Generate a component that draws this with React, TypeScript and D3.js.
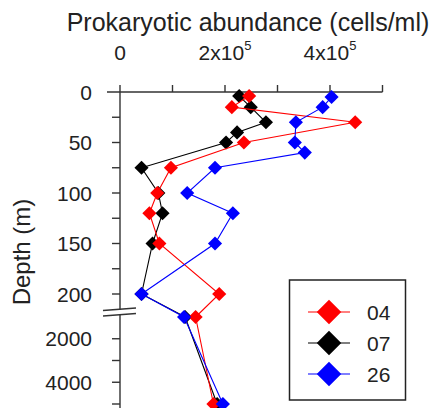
import * as d3 from "d3";
import React, { useEffect, useRef } from "react";

// depth (m) and abundance (cells/ml) per station
const depths04 = [4, 15, 30, 50, 75, 100, 120, 150, 200, 1000, 5000];
const abund04 = [2.46e5, 2.13e5, 4.48e5, 2.36e5, 0.97e5, 0.71e5, 0.56e5, 0.75e5, 1.89e5, 1.44e5, 1.78e5];
const depths07 = [4, 15, 30, 40, 50, 75, 100, 120, 150, 200, 1000, 5000];
const abund07 = [2.27e5, 2.49e5, 2.78e5, 2.23e5, 2.02e5, 0.41e5, 0.73e5, 0.81e5, 0.62e5, 0.41e5, 1.24e5, 1.85e5];
const depths26 = [5, 15, 30, 50, 60, 75, 100, 120, 150, 200, 1000, 5000];
const abund26 = [4.03e5, 3.86e5, 3.35e5, 3.33e5, 3.52e5, 1.81e5, 1.28e5, 2.15e5, 1.81e5, 0.41e5, 1.22e5, 1.96e5];

const stations = ["04", "07", "26"];
const colors = ["#ff0000", "#000000", "#0000ff"];

const xTicks = [0, 1e5, 2e5, 3e5, 4e5, 5e5];
const xLabels = [0, 2e5, 4e5];
const yTicksTop = [0, 25, 50, 75, 100, 125, 150, 175, 200];
const yLabelsTop = [0, 50, 100, 150, 200];
const yTicksBottom = [2000, 3000, 4000, 5000];
const yLabelsBottom = [2000, 4000];

const FONT = "Liberation Sans, Arial, sans-serif";

export default function App() {
    const ref = useRef<SVGSVGElement>(null);

    useEffect(() => {
        const svg = d3.select(ref.current);
        svg.selectAll("*").remove();

        const x = d3.scaleLinear().domain([0, 5e5]).range([120, 382.5]);
        const yTop = d3.scaleLinear().domain([0, 200]).range([92, 294]);
        const yBot = d3.scaleLinear().domain([1000, 5000]).range([317, 404]);
        const y = (d: number) => (d <= 200 ? yTop(d) : yBot(d));
        const axisColor = "#333";

        // x axis (top)
        svg.append("line")
            .attr("x1", 107).attr("x2", x(5e5))
            .attr("y1", 92).attr("y2", 92)
            .attr("stroke", axisColor).attr("stroke-width", 1.4);
        xTicks.forEach((t) => {
            svg.append("line")
                .attr("x1", x(t)).attr("x2", x(t))
                .attr("y1", 92).attr("y2", 85)
                .attr("stroke", axisColor).attr("stroke-width", 1.4);
        });
        xLabels.forEach((t) => {
            const txt = svg.append("text")
                .attr("x", x(t)).attr("y", 60)
                .attr("text-anchor", "middle")
                .attr("font-family", FONT).attr("font-size", 21).attr("fill", "#222");
            if (t === 0) {
                txt.text("0");
            } else {
                txt.append("tspan").text(`${t / 1e5}x10`);
                txt.append("tspan").attr("dy", -10).attr("font-size", 13).text("5");
            }
        });
        svg.append("text")
            .attr("x", 248).attr("y", 31)
            .attr("text-anchor", "middle")
            .attr("font-family", FONT).attr("font-size", 25).attr("fill", "#222")
            .text("Prokaryotic abundance (cells/ml)");

        // y axis with a break
        svg.append("line")
            .attr("x1", 120).attr("x2", 120).attr("y1", 92).attr("y2", 310)
            .attr("stroke", axisColor).attr("stroke-width", 1.4);
        svg.append("line")
            .attr("x1", 120).attr("x2", 120).attr("y1", 315).attr("y2", 410)
            .attr("stroke", axisColor).attr("stroke-width", 1.4);
        [[310.5, 308], [316, 313.5]].forEach(([a, b]) => {
            svg.append("line")
                .attr("x1", 103).attr("x2", 136).attr("y1", a).attr("y2", b)
                .attr("stroke", axisColor).attr("stroke-width", 1.4);
        });
        yTicksTop.filter((t) => t > 0).forEach((t) => {
            svg.append("line")
                .attr("x1", 112).attr("x2", 120).attr("y1", yTop(t)).attr("y2", yTop(t))
                .attr("stroke", axisColor).attr("stroke-width", 1.4);
        });
        yTicksBottom.forEach((t) => {
            svg.append("line")
                .attr("x1", 112).attr("x2", 120).attr("y1", yBot(t)).attr("y2", yBot(t))
                .attr("stroke", axisColor).attr("stroke-width", 1.4);
        });
        const yLab = [
            ...yLabelsTop.map((t) => ({ t, py: yTop(t) })),
            ...yLabelsBottom.map((t) => ({ t, py: yBot(t) })),
        ];
        yLab.forEach(({ t, py }) => {
            svg.append("text")
                .attr("x", 92).attr("y", py)
                .attr("dy", "0.36em")
                .attr("text-anchor", "end")
                .attr("font-family", FONT).attr("font-size", 21).attr("fill", "#222")
                .text(String(t));
        });
        svg.append("text")
            .attr("transform", "translate(30,252) rotate(-90)")
            .attr("text-anchor", "middle")
            .attr("font-family", FONT).attr("font-size", 24).attr("fill", "#222")
            .text("Depth (m)");

        // series: draw 07 first, then 04, then 26
        const series = [
            { depths: depths07, values: abund07, color: colors[1] },
            { depths: depths04, values: abund04, color: colors[0] },
            { depths: depths26, values: abund26, color: colors[2] },
        ];
        const line = d3.line<[number, number]>()
            .x((d) => x(d[1]))
            .y((d) => y(d[0]));
        const marker = d3.symbol().type(d3.symbolSquare).size(100);

        series.forEach((s) => {
            const pts = s.depths.map((d, i) => [d, s.values[i]] as [number, number]);
            svg.append("path")
                .attr("d", line(pts))
                .attr("fill", "none")
                .attr("stroke", s.color)
                .attr("stroke-width", 1.1);
            svg.selectAll(null)
                .data(pts)
                .enter()
                .append("path")
                .attr("d", marker)
                .attr("transform", (d) => `translate(${x(d[1])},${y(d[0])}) rotate(45)`)
                .attr("fill", s.color);
        });

        // legend
        const legend = svg.append("g");
        legend.append("rect")
            .attr("x", 289.5).attr("y", 280).attr("width", 116).attr("height", 120)
            .attr("fill", "white").attr("stroke", "#222").attr("stroke-width", 1.5);
        const legMarker = d3.symbol().type(d3.symbolSquare).size(300);
        stations.forEach((name, i) => {
            const ly = 312 + i * 31;
            legend.append("line")
                .attr("x1", 308).attr("x2", 350).attr("y1", ly).attr("y2", ly)
                .attr("stroke", colors[i]).attr("stroke-width", 1.1);
            legend.append("path")
                .attr("d", legMarker)
                .attr("transform", `translate(329,${ly}) rotate(45)`)
                .attr("fill", colors[i]);
            legend.append("text")
                .attr("x", 367).attr("y", ly)
                .attr("dy", "0.36em")
                .attr("font-family", FONT).attr("font-size", 21).attr("fill", "#222")
                .text(name);
        });
    }, []);

    return (
        <svg
            ref={ref}
            width={438}
            height={408}
            style={{ position: "absolute", left: 0, top: 0, background: "white" }}
        />
    );
}
